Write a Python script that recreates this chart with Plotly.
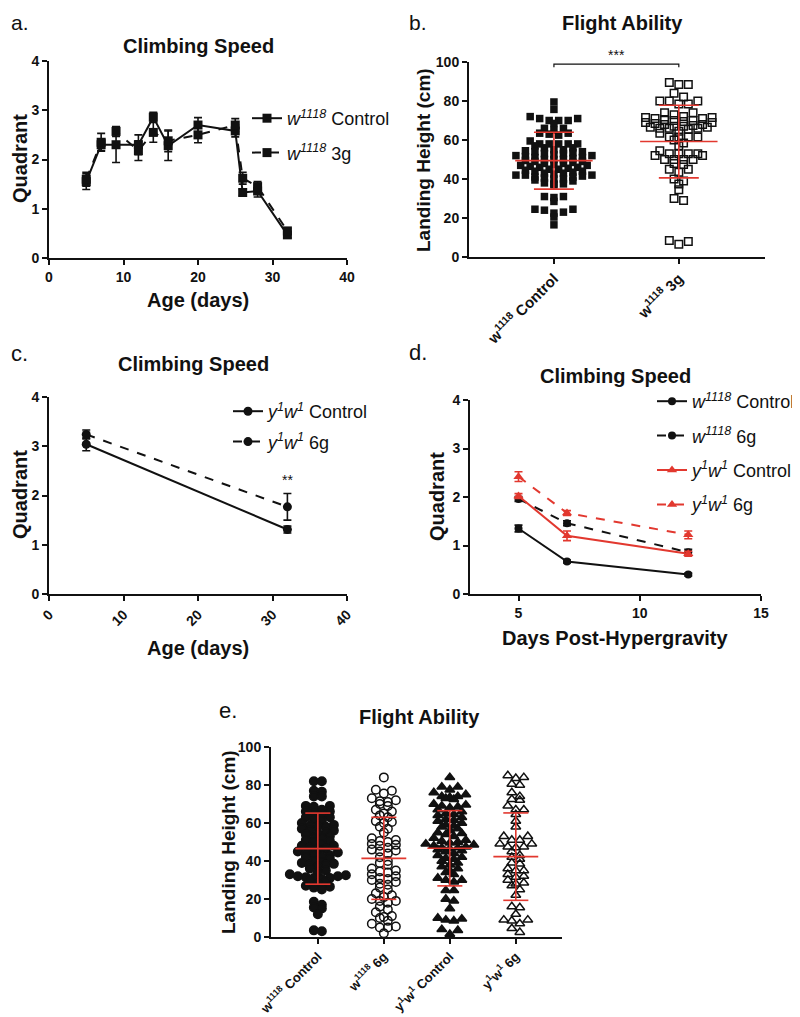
import numpy as np
import plotly.graph_objects as go

W, H = 800, 1017
OFF = 8  # the page body margin shifts the figure by this many pixels
FONT = "Arial, 'Liberation Sans', Helvetica, sans-serif"
RED = "#e2382f"
BLACK = "#111111"

# ---------------- data ----------------
# Panel a: climbing speed vs age (w1118)
a_age = [5, 7, 9, 12, 14, 16, 20, 25, 26, 28, 32]
a_ctrl = [1.55, 2.30, 2.30, 2.30, 2.86, 2.28, 2.70, 2.58, 1.33, 1.36, 0.47]
a_ctrl_err = [0.16, 0.12, 0.36, 0.20, 0.10, 0.30, 0.15, 0.12, 0.06, 0.12, 0.06]
a_3g = [1.60, 2.35, 2.57, 2.18, 2.55, 2.38, 2.50, 2.70, 1.62, 1.45, 0.55]
a_3g_err = [0.14, 0.18, 0.10, 0.20, 0.20, 0.22, 0.16, 0.13, 0.12, 0.10, 0.05]

# Panel b: landing height (cm)
b_cats = ["w<sup>1118</sup> Control", "w<sup>1118</sup> 3g"]
b_ctrl = [79.5, 75.7, 72, 71, 71, 70, 70, 70, 68.5, 66, 66, 65, 63.5, 63.5, 63, 62.5,
          59.5, 58, 58, 58, 58, 58, 57, 56, 56,
          55, 55, 54.5, 54, 54, 53.5, 53, 53, 52.5, 52, 52, 51.5, 51, 51, 50.5, 50, 50, 50,
          49.5, 49, 49, 48.5, 48, 48, 47.5, 47, 47, 46.5, 46, 46, 45.5, 45, 45, 44.5, 44, 44,
          43.5, 43, 43, 42.5, 42, 42, 42, 41.5, 41, 41, 40.5, 40, 40, 39.5, 39,
          38, 37.5, 37.5, 37, 31, 30.5, 31, 28.5, 24.5, 24.5, 24, 22.5, 23, 20.5, 16.5]
b_3g = [89.5, 88.5, 88.5, 84, 82, 80, 80, 80, 78.5, 78.5, 74, 74, 73,
        72, 71.5, 71.5, 71, 70.5, 70, 69.5, 69, 68.5, 68, 67.5, 67, 66.5, 66, 66,
        65.5, 66, 66.5, 67, 68, 69, 70, 71,
        64.5, 63.5, 61.5, 61.5, 61.5, 61.5, 60, 58.5, 57, 54.5, 53, 53, 53, 53, 52, 52,
        50, 50, 50, 50, 47.5, 48, 45, 45, 43.5, 40, 39, 37.5, 34.5, 30, 29, 8.5, 6.5, 8]
b_mean = [49.4, 59.2]
b_sd = [14.6, 18.6]

# Panel c: climbing speed vs age (y1w1)
c_age = [5, 32]
c_ctrl = [3.04, 1.31]
c_ctrl_err = [0.13, 0.07]
c_6g = [3.24, 1.77]
c_6g_err = [0.09, 0.27]

# Panel d: climbing speed vs days post-hypergravity
d_days = [5, 7, 12]
d_w_ctrl = [1.35, 0.67, 0.40]
d_w_ctrl_err = [0.07, 0.03, 0.03]
d_w_6g = [1.96, 1.46, 0.86]
d_w_6g_err = [0.05, 0.05, 0.06]
d_y_ctrl = [2.02, 1.20, 0.83]
d_y_ctrl_err = [0.05, 0.10, 0.05]
d_y_6g = [2.42, 1.67, 1.22]
d_y_6g_err = [0.10, 0.05, 0.08]

# Panel e: landing height (cm), 4 groups
e_cats = ["w<sup>1118</sup> Control", "w<sup>1118</sup> 6g",
          "y<sup>1</sup>w<sup>1</sup> Control", "y<sup>1</sup>w<sup>1</sup> 6g"]
e_w_ctrl = [82, 82, 77, 76.5, 74, 74, 69, 68.5, 69, 67, 66, 66, 65, 64.5, 63, 63, 62, 61, 60,
            59, 58.5, 58, 58, 57, 56, 56, 55, 54.5, 54, 53, 52, 52, 51, 50.5, 50, 49, 48, 48,
            47, 46.5, 46, 45, 44.5, 44, 43, 43, 42.5, 42, 41, 40, 39.5, 39, 38.5, 38, 38, 37,
            36, 35, 34, 33, 32.5, 32, 32, 31.5, 31, 31, 30.5, 30, 29, 28, 27, 26.5, 26, 25,
            18.5, 17, 15, 15.5, 12, 3, 3.5]
e_w_6g = [84, 77.5, 77, 75.5, 73, 72, 71.5, 71, 70, 69, 67, 66, 65, 64, 63, 61, 60.5, 60,
          58, 57, 55, 52, 51, 50.5, 50, 49, 48.5, 48, 47, 46, 45.5, 45, 44, 42, 40, 39, 38,
          36, 35, 34.5, 34, 33, 32, 31, 30.5, 30, 29, 28, 27.5, 26, 25, 23, 22, 21, 20, 19,
          19, 18, 16, 14.5, 13, 11, 10.5, 10, 8.5, 7, 5.5, 5, 5, 2]
e_y_ctrl = [84, 79, 79, 77.5, 76, 75, 74, 74, 73.5, 73, 72.5, 70, 69.5, 69, 68.5, 68, 67,
            66, 65, 64.5, 64, 63, 62, 61.5, 61, 60, 59, 58.5, 58, 57, 56, 55, 54.5, 54, 53,
            52, 51, 50.5, 50, 49.5, 49, 48.5, 48, 47.5, 47, 47, 46.5, 46, 45.5, 45, 44, 43,
            42, 41.5, 41, 40, 39, 38, 37, 36, 35, 34, 33, 31, 30, 30, 29, 24.5, 24.5, 20,
            19, 15, 10, 9.5, 9, 8.5, 4, 3.5, 1.5]
e_y_6g = [85, 84, 83.5, 80.5, 80, 76, 74, 72.5, 72, 69, 67, 67, 64.5, 61, 58, 53, 53, 51,
          51, 49, 49, 47.5, 47.5, 47, 45, 43, 42, 41, 39, 38.5, 36, 35, 35, 33, 32, 31.5, 30,
          28.5, 28, 27, 25, 22, 16, 15.5, 12, 9, 9, 8.5, 7, 4.5, 2.5]
e_mean = [46.5, 41.4, 46.7, 42.3]
e_sd = [18.7, 21.6, 19.8, 23.0]

# ---------------- layout geometry (pixels in the screenshot) ----------------
PAN = {  # left, right, top, bottom
    "a": (49, 347, 61, 258),
    "b": (469, 765, 62, 257),
    "c": (49, 347, 397, 594),
    "d": (470, 761, 400, 594),
    "e": (271, 562, 747, 937),
}
RANGES_X = {"a": [0, 40], "b": [-0.68, 1.69], "c": [0, 40], "d": [3, 15], "e": [-0.71, 3.70]}
RANGES_Y = {"a": [0, 4], "b": [0, 100], "c": [0, 4], "d": [0, 4], "e": [0, 100]}
AX = {"a": ("x", "y"), "b": ("x2", "y2"), "c": ("x3", "y3"), "d": ("x4", "y4"), "e": ("x5", "y5")}


def px(x):
    return (x - OFF) / W


def py(y):
    return 1 - (y - OFF) / H


def scales(p):
    l, r, t, b = PAN[p]
    xr, yr = RANGES_X[p], RANGES_Y[p]
    return (r - l) / (xr[1] - xr[0]), (b - t) / (yr[1] - yr[0])


def dotplot_x(vals, center, xscale, yscale, dw, dh):
    """Column-scatter layout: group near-equal values into rows, centre each row."""
    vals = np.asarray(vals, float)
    order = list(np.argsort(-vals, kind="stable"))
    rows, cur = [], []
    for i in order:
        if cur and (vals[cur[0]] - vals[i]) * yscale >= dh:
            rows.append(cur)
            cur = []
        cur.append(i)
    if cur:
        rows.append(cur)
    xs = np.empty(len(vals))
    for row in rows:
        n = len(row)
        slots = [(j - (n - 1) / 2) * dw for j in range(n)]
        # outermost slots get the highest values -> chevron look
        slot_order = sorted(range(n), key=lambda j: -abs(slots[j]))
        for idx, j in zip(row, slot_order):
            xs[idx] = center + slots[j] / xscale
    return xs


def mean_sd_trace(means, sds, hw, cw, xa, ya):
    xs, ys = [], []
    for i, (m, s) in enumerate(zip(means, sds)):
        xs += [i - hw, i + hw, None, i, i, None, i - cw, i + cw, None, i - cw, i + cw, None]
        ys += [m, m, None, m - s, m + s, None, m + s, m + s, None, m - s, m - s, None]
    return go.Scatter(x=xs, y=ys, mode="lines", line=dict(color=RED, width=1.6),
                      xaxis=xa, yaxis=ya, showlegend=False, hoverinfo="skip")


fig = go.Figure()


def err(arr, color):
    return dict(type="data", array=arr, visible=True, color=color, thickness=1.6, width=4)


# ---- panel a ----
xa, ya = AX["a"]
fig.add_trace(go.Scatter(x=a_age, y=a_ctrl, error_y=err(a_ctrl_err, BLACK), mode="lines+markers",
                         name="<i>w</i><sup><i>1118</i></sup> Control",
                         line=dict(color=BLACK, width=2), marker=dict(symbol="square", size=9, color=BLACK),
                         xaxis=xa, yaxis=ya, legend="legend", legendgroup="a1", cliponaxis=False))
fig.add_trace(go.Scatter(x=a_age, y=a_3g, error_y=err(a_3g_err, BLACK), mode="lines+markers",
                         name="<i>w</i><sup><i>1118</i></sup> 3g",
                         line=dict(color=BLACK, width=2, dash="dash"),
                         marker=dict(symbol="square", size=9, color=BLACK),
                         xaxis=xa, yaxis=ya, legend="legend", legendgroup="a2", cliponaxis=False))

# ---- panel b ----
xa, ya = AX["b"]
sx, sy = scales("b")
fig.add_trace(go.Scatter(x=dotplot_x(b_ctrl, 0, sx, sy, 9.5, 4.6), y=b_ctrl, mode="markers",
                         marker=dict(symbol="square", size=7.5, color=BLACK),
                         xaxis=xa, yaxis=ya, showlegend=False, cliponaxis=False))
fig.add_trace(go.Scatter(x=dotplot_x(b_3g, 1, sx, sy, 9.5, 4.6), y=b_3g, mode="markers",
                         marker=dict(symbol="square-open", size=7.5, color=BLACK, line=dict(width=1.5)),
                         xaxis=xa, yaxis=ya, showlegend=False, cliponaxis=False))
fig.add_trace(mean_sd_trace(b_mean, b_sd, 0.31, 0.16, xa, ya))
fig.add_trace(go.Scatter(x=[0, 0, 1, 1], y=[97.3, 98.9, 98.9, 97.3], mode="lines",
                         line=dict(color=BLACK, width=1.2), xaxis=xa, yaxis=ya,
                         showlegend=False, cliponaxis=False, hoverinfo="skip"))

# ---- panel c ----
xa, ya = AX["c"]
fig.add_trace(go.Scatter(x=c_age, y=c_ctrl, error_y=err(c_ctrl_err, BLACK), mode="lines+markers",
                         name="<i>y</i><sup><i>1</i></sup><i>w</i><sup><i>1</i></sup> Control",
                         line=dict(color=BLACK, width=2), marker=dict(symbol="circle", size=9, color=BLACK),
                         xaxis=xa, yaxis=ya, legend="legend2", legendgroup="c1", cliponaxis=False))
fig.add_trace(go.Scatter(x=c_age, y=c_6g, error_y=err(c_6g_err, BLACK), mode="lines+markers",
                         name="<i>y</i><sup><i>1</i></sup><i>w</i><sup><i>1</i></sup> 6g",
                         line=dict(color=BLACK, width=2, dash="dash"),
                         marker=dict(symbol="circle", size=9, color=BLACK),
                         xaxis=xa, yaxis=ya, legend="legend2", legendgroup="c2", cliponaxis=False))

# ---- panel d ----
xa, ya = AX["d"]
for name, yv, ev, col, dash, sym, grp in [
    ("<i>w</i><sup><i>1118</i></sup> Control", d_w_ctrl, d_w_ctrl_err, BLACK, "solid", "circle", "d1"),
    ("<i>w</i><sup><i>1118</i></sup> 6g", d_w_6g, d_w_6g_err, BLACK, "dash", "circle", "d2"),
    ("<i>y</i><sup><i>1</i></sup><i>w</i><sup><i>1</i></sup> Control", d_y_ctrl, d_y_ctrl_err, RED, "solid",
     "triangle-up", "d3"),
    ("<i>y</i><sup><i>1</i></sup><i>w</i><sup><i>1</i></sup> 6g", d_y_6g, d_y_6g_err, RED, "dash",
     "triangle-up", "d4"),
]:
    fig.add_trace(go.Scatter(x=d_days, y=yv, error_y=err(ev, col), mode="lines+markers", name=name,
                             line=dict(color=col, width=2, dash=dash),
                             marker=dict(symbol=sym, size=9 if sym == "triangle-up" else 8, color=col),
                             xaxis=xa, yaxis=ya, legend="legend3", legendgroup=grp, cliponaxis=False))

# ---- panel e ----
xa, ya = AX["e"]
sx, sy = scales("e")
for i, (vals, sym) in enumerate([(e_w_ctrl, "circle"), (e_w_6g, "circle-open"),
                                 (e_y_ctrl, "triangle-up"), (e_y_6g, "triangle-up-open")]):
    fig.add_trace(go.Scatter(x=dotplot_x(vals, i, sx, sy, 8.0, 5.5), y=vals, mode="markers",
                             marker=dict(symbol=sym, size=8.5, color=BLACK, line=dict(width=1.5, color=BLACK)),
                             xaxis=xa, yaxis=ya, showlegend=False, cliponaxis=False))
fig.add_trace(mean_sd_trace(e_mean, e_sd, 0.34, 0.19, xa, ya))

# ---------------- axes ----------------
tickfont = dict(family=FONT, size=14, color=BLACK, weight="bold")
common = dict(showline=True, linecolor=BLACK, linewidth=2, ticks="outside", ticklen=5, tickwidth=2,
              tickcolor=BLACK, showgrid=False, zeroline=False, tickfont=tickfont, fixedrange=True,
              automargin=False)

lay = {}
for k, p in enumerate(["a", "b", "c", "d", "e"]):
    l, r, t, b = PAN[p]
    xn = "xaxis" if k == 0 else f"xaxis{k + 1}"
    yn = "yaxis" if k == 0 else f"yaxis{k + 1}"
    lay[xn] = dict(common, domain=[px(l), px(r)], range=RANGES_X[p], anchor=AX[p][1])
    lay[yn] = dict(common, domain=[py(b), py(t)], range=RANGES_Y[p], anchor=AX[p][0])

lay["xaxis"].update(tickvals=[0, 10, 20, 30, 40])
lay["yaxis"].update(tickvals=[0, 1, 2, 3, 4])
lay["xaxis2"].update(tickvals=[0, 1], ticktext=b_cats, tickangle=-45, tickfont=dict(tickfont, size=15))
lay["yaxis2"].update(tickvals=[0, 20, 40, 60, 80, 100])
lay["xaxis3"].update(tickvals=[0, 10, 20, 30, 40], tickangle=-45)
lay["yaxis3"].update(tickvals=[0, 1, 2, 3, 4])
lay["xaxis4"].update(tickvals=[5, 10, 15])
lay["yaxis4"].update(tickvals=[0, 1, 2, 3, 4])
lay["xaxis5"].update(tickvals=[0, 1, 2, 3], ticktext=e_cats, tickangle=-45, tickfont=dict(tickfont, size=13))
lay["yaxis5"].update(tickvals=[0, 20, 40, 60, 80, 100])

# ---------------- annotations ----------------
ann = []


def txt(x, y, s, size, bold=False, angle=0, xanchor="center", yanchor="middle"):
    ann.append(dict(x=px(x), y=py(y), xref="paper", yref="paper", text=s, showarrow=False,
                    textangle=angle, xanchor=xanchor, yanchor=yanchor,
                    font=dict(family=FONT, size=size, color=BLACK, weight="bold" if bold else "normal")))


txt(9, 9, "a.", 21, xanchor="left", yanchor="top")
txt(407, 9, "b.", 21, xanchor="left", yanchor="top")
for lab, x, y in [("c.", 9, 353), ("d.", 407, 352), ("e.", 217, 710)]:
    txt(x, y, lab, 22, xanchor="left")

txt(198, 46, "Climbing Speed", 20, True)
txt(622, 23, "Flight Ability", 20, True)
txt(193, 364, "Climbing Speed", 20, True)
txt(615, 376, "Climbing Speed", 20, True)
txt(419, 717, "Flight Ability", 20, True)

txt(20, 159, "Quadrant", 20, True, -90)
txt(198, 300, "Age (days)", 20, True)
txt(423, 160, "Landing Height (cm)", 19, True, -90)
txt(20, 495, "Quadrant", 20, True, -90)
txt(198, 648, "Age (days)", 20, True)
txt(437, 497, "Quadrant", 20, True, -90)
txt(615, 638, "Days Post-Hypergravity", 20, True)
txt(228, 842, "Landing Height (cm)", 19, True, -90)
txt(616, 55, "***", 14)

ann.append(dict(x=32, y=2.12, xref="x3", yref="y3", text="**", showarrow=False, yanchor="bottom",
                font=dict(family=FONT, size=14, color=BLACK)))

legfont = dict(family=FONT, size=18, color=BLACK)
legcommon = dict(font=legfont, bgcolor="rgba(0,0,0,0)", borderwidth=0, xanchor="left", yanchor="top",
                 xref="container", yref="container",
                 itemwidth=30, traceorder="grouped", tracegroupgap=8)

fig.update_layout(
    width=W, height=H, margin=dict(l=0, r=0, t=0, b=0, autoexpand=False),
    paper_bgcolor="white", plot_bgcolor="white",
    font=dict(family=FONT, color=BLACK),
    annotations=ann,
    legend=dict(legcommon, x=px(247), y=py(100)),
    legend2=dict(legcommon, x=px(228), y=py(393), tracegroupgap=4),
    legend3=dict(legcommon, x=px(652), y=py(383)),
    **lay,
)

fig.write_html("out.html")
